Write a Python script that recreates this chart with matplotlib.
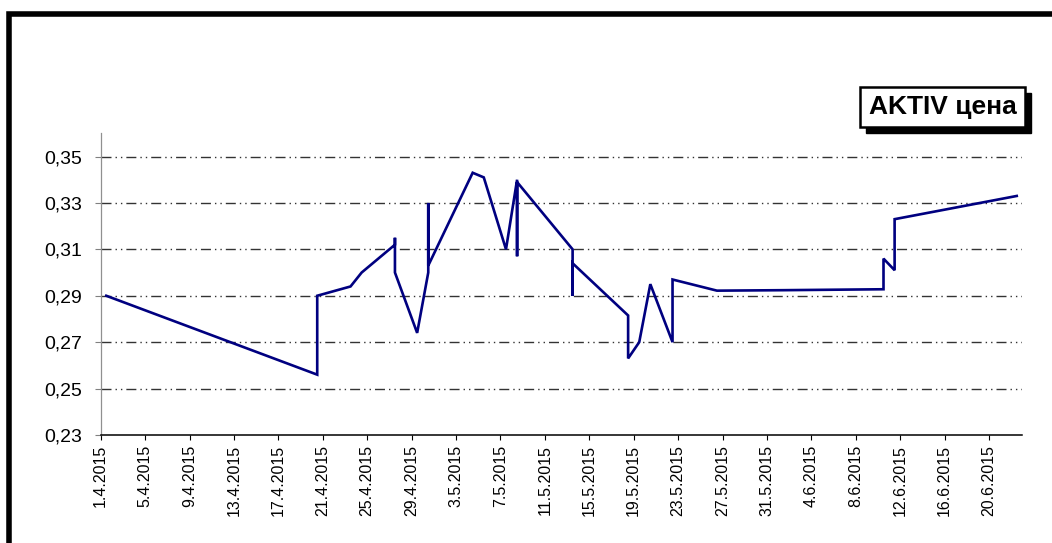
import numpy as np
import pandas as pd
import matplotlib
matplotlib.use("Agg")
import matplotlib.pyplot as plt
import matplotlib.patches as mpatches
from matplotlib.ticker import FuncFormatter

plt.rcParams['font.family'] = ['Liberation Sans', 'DejaVu Sans']
plt.rcParams['lines.scale_dashes'] = False

# price data (several values on one day are drawn as vertical jumps)
dates = ["1.4.2015", "20.4.2015", "20.4.2015", "23.4.2015", "24.4.2015",
         "27.4.2015", "27.4.2015", "27.4.2015", "29.4.2015",
         "30.4.2015", "30.4.2015", "30.4.2015", "4.5.2015", "5.5.2015",
         "7.5.2015", "8.5.2015", "8.5.2015", "8.5.2015",
         "13.5.2015", "13.5.2015", "13.5.2015", "18.5.2015", "18.5.2015",
         "19.5.2015", "20.5.2015", "22.5.2015", "22.5.2015", "26.5.2015",
         "1.6.2015", "10.6.2015", "10.6.2015", "11.6.2015", "11.6.2015",
         "22.6.2015"]
prices = [0.290, 0.256, 0.290, 0.294, 0.300,
          0.312, 0.315, 0.300, 0.274,
          0.300, 0.330, 0.303, 0.343, 0.341,
          0.310, 0.340, 0.307, 0.339,
          0.310, 0.290, 0.304, 0.2815, 0.263,
          0.270, 0.295, 0.270, 0.297, 0.2922,
          0.2924, 0.2928, 0.306, 0.301, 0.323,
          0.333]
series_name = "AKTIV цена"
y_ticks = [0.23, 0.25, 0.27, 0.29, 0.31, 0.33, 0.35]
x_start, x_end = "1.4.2015", "23.6.2015"

W, H = 1052, 543
fig = plt.figure(figsize=(W / 100, H / 100), dpi=100)
ax = fig.add_axes([100.7 / W, 1 - 435 / H, 921.6 / W, 301.7 / H])

d = pd.to_datetime(dates, format="%d.%m.%Y")
# points sit in the middle of their day slot
x = d + pd.Timedelta(hours=12)
ax.plot(x, prices, color="#000080", lw=1.9, solid_joinstyle="miter", zorder=3)

t0 = pd.to_datetime(x_start, format="%d.%m.%Y")
t1 = pd.to_datetime(x_end, format="%d.%m.%Y")
ax.set_xlim(t0, t1)
ax.set_ylim(0.23, 0.36)

ticks = pd.date_range(t0, t1, freq="4D")
ax.set_xticks(ticks)
ax.set_xticklabels([f"{t.day}.{t.month}.{t.year}" for t in ticks],
                   rotation=90, fontsize=11.5)
ax.set_yticks(y_ticks)
ax.yaxis.set_major_formatter(FuncFormatter(lambda v, p: f"{v:.2f}".replace(".", ",")))
ax.tick_params(axis="y", labelsize=14, length=4.3, color="#808080", pad=9, width=0.8)
ax.tick_params(axis="x", length=3.6, color="black", pad=3.5, width=0.8)

for v in y_ticks[1:]:
    ax.axhline(v, color="#333333", lw=1.0,
               linestyle=(0, (7.2, 2.9, 1.0, 2.9, 1.0, 2.9)), zorder=1)

for s in ["top", "right"]:
    ax.spines[s].set_visible(False)
ax.spines["left"].set_color("#909090")
ax.spines["left"].set_linewidth(0.9)
ax.spines["bottom"].set_color("black")
ax.spines["bottom"].set_linewidth(1.1)

# outer frame (right and bottom edges fall outside the picture)
fig.patches.append(mpatches.Rectangle((9.5 / W, -0.1), 1.2, 1.1 - 14 / H,
                                      transform=fig.transFigure, fill=False,
                                      edgecolor="black", lw=4.0))

# legend box with shadow
bx0, bx1, by0, by1 = 860, 1025, 87, 127
fig.patches.append(mpatches.Rectangle(((bx0 + 6) / W, 1 - (by1 + 6) / H),
                                      (bx1 - bx0) / W, (by1 - by0) / H,
                                      transform=fig.transFigure,
                                      facecolor="black", edgecolor="black", lw=1))
fig.patches.append(mpatches.Rectangle((bx0 / W, 1 - by1 / H),
                                      (bx1 - bx0) / W, (by1 - by0) / H,
                                      transform=fig.transFigure,
                                      facecolor="white", edgecolor="black", lw=1.8))
fig.text((bx0 + bx1) / 2 / W, 1 - (by0 + by1) / 2 / H, series_name,
         ha="center", va="center", fontsize=19, fontweight="bold")

fig.savefig("out.png", dpi=100)
